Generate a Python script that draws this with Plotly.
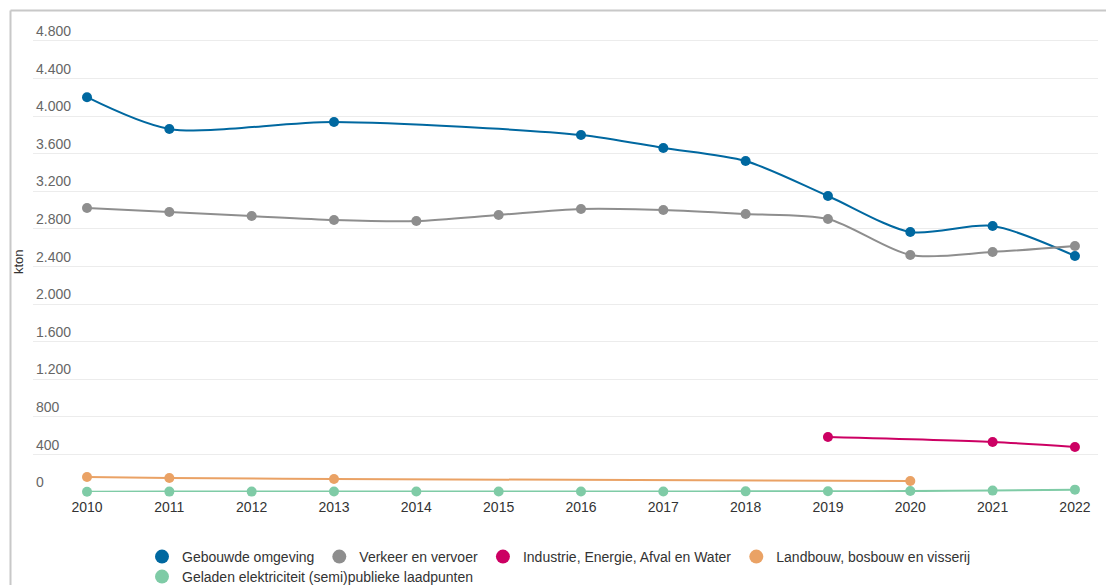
import plotly.graph_objects as go

years = list(range(2010, 2023))
gebouwde = [4200, 3862, None, 3936, None, None, 3798, 3660, 3521, 3149, 2766, 2830, 2511]
verkeer = [3021, 2979, 2936, 2894, 2883, 2947, 3011, 3000, 2957, 2904, 2521, 2553, 2617]
industrie = [None, None, None, None, None, None, None, None, None, 585, None, 532, 479]
landbouw = [160, 149, None, 138, None, None, None, None, None, None, 117, None, None]
geladen = [3, 4, 4, 5, 5, 5, 6, 6, 7, 8, 10, 15, 25]

names = ["Gebouwde omgeving", "Verkeer en vervoer", "Industrie, Energie, Afval en Water",
         "Landbouw, bosbouw en visserij", "Geladen elektriciteit (semi)publieke laadpunten"]
series = [gebouwde, verkeer, industrie, landbouw, geladen]
colors = ["#0068a0", "#8e8e8e", "#cc0063", "#eaa265", "#7fcba6"]
legend_ids = ["legend", "legend", "legend", "legend", "legend2"]

fig = go.Figure()
for name, vals, col in zip(names, series, colors):
    fig.add_trace(go.Scatter(
        x=years, y=vals, mode="lines+markers", name=name,
        line=dict(color=col, width=2, shape="spline", smoothing=0.8),
        marker=dict(color=col, size=10), connectgaps=True,
        showlegend=False, cliponaxis=False, hoverinfo="x+y+name"))
for name, col, lg in zip(names, colors, legend_ids):
    fig.add_trace(go.Scatter(
        x=[None], y=[None], mode="markers", name=name, legend=lg,
        marker=dict(color=col, size=14), showlegend=True))

font = "Liberation Sans, Arial, sans-serif"
T, B = 22, 93
H = 585 - T - B
L, R = 33, 8
W = 1106 - L - R
leg_x = (142 - L) / W
fig.update_layout(
    width=1106, height=585,
    margin=dict(l=L, r=R, t=T, b=B, autoexpand=False),
    paper_bgcolor="white", plot_bgcolor="white",
    separators=",.",
    font=dict(family=font, size=14, color="#333333"),
    xaxis=dict(range=[2009.344, 2022.28], tickmode="array", tickvals=years,
               showgrid=False, zeroline=False, showline=False, ticks="",
               ticklabelstandoff=5,
               tickfont=dict(size=14, color="#333333")),
    yaxis=dict(range=[0, 5000], tickvals=list(range(0, 4801, 400)), tickformat=",d",
               ticklabelposition="inside top", gridcolor="#ececec", gridwidth=1,
               zeroline=False, showline=False,
               tickfont=dict(size=14, color="#666666")),
    legend=dict(orientation="h", x=leg_x, xanchor="left", y=(492 - 541) / H, yanchor="top",
                font=dict(size=14, color="#333333"), itemwidth=30, tracegroupgap=0,
                bgcolor="rgba(0,0,0,0)"),
    legend2=dict(orientation="h", x=leg_x, xanchor="left", y=(492 - 561) / H, yanchor="top",
                 font=dict(size=14, color="#333333"), itemwidth=30, tracegroupgap=0,
                 bgcolor="rgba(0,0,0,0)"),
    annotations=[dict(text="kton", xref="paper", yref="paper",
                      x=(18 - L) / W, y=(492 - 262) / H, xanchor="center", yanchor="middle",
                      textangle=-90, showarrow=False,
                      font=dict(size=13, color="#333333"))],
    shapes=[dict(type="line", xref="paper", yref="paper", x0=(10.5 - L) / W, x1=1.2,
                 y0=1 + (T - 10.5) / H, y1=1 + (T - 10.5) / H,
                 line=dict(color="#c8c8c8", width=2)),
            dict(type="line", xref="paper", yref="paper", x0=(10.5 - L) / W,
                 x1=(10.5 - L) / W, y0=-0.3, y1=1 + (T - 10.5) / H,
                 line=dict(color="#c8c8c8", width=2))],
)

fig.write_html("out.html")
